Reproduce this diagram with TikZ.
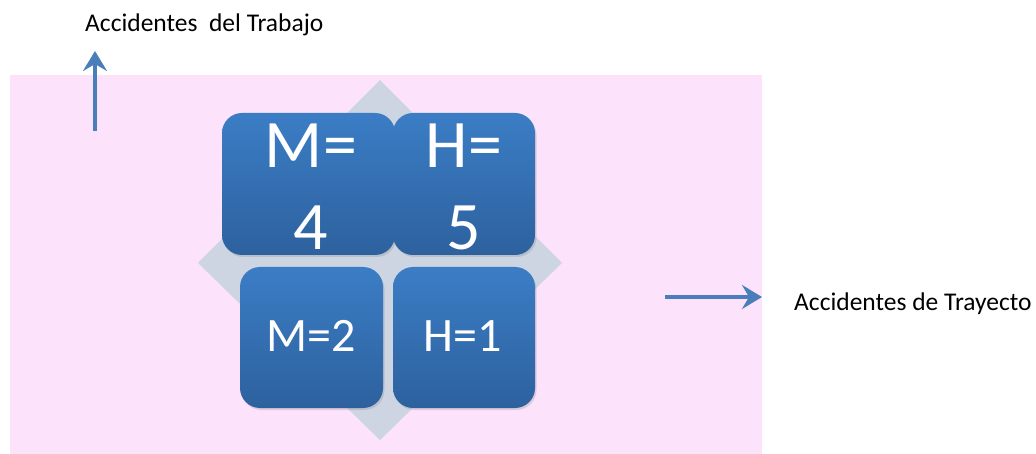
\documentclass[tikz,border=0pt]{standalone}
\usepackage{fontspec}
\setmainfont{Carlito}
\usetikzlibrary{arrows.meta,shadows}
\definecolor{bgpink}{HTML}{FCE3FB}
\definecolor{diam}{HTML}{CDD5E3}
\definecolor{btop}{HTML}{3B7DC5}
\definecolor{bbot}{HTML}{2D619E}
\definecolor{arr}{HTML}{4A7EBB}
\tikzset{
  tile/.style={rounded corners=20pt, top color=btop, bottom color=bbot, draw=none,
    drop shadow={shadow xshift=1.5pt, shadow yshift=-2pt, opacity=0.25},
    inner sep=0pt},
  bigtxt/.style={font=\fontsize{68}{80}\selectfont, text=white, align=center, inner sep=0pt},
  smalltxt/.style={font=\fontsize{48}{56}\selectfont, text=white, inner sep=0pt},
  lbl/.style={font=\fontsize{25.5}{30}\selectfont, text=black, inner sep=0pt},
  arrline/.style={draw=arr, line width=4pt, -{Stealth[length=20pt,width=24pt,inset=7pt]}}
}
\begin{document}
\begin{tikzpicture}[x=1pt,y=-1pt]
\useasboundingbox (0,0) rectangle (1036,454);
\fill[white] (0,0) rectangle (1036,454);
\fill[bgpink] (10,75) rectangle (762,454);
\fill[diam] (380,80) -- (562,263) -- (380,440) -- (198,263) -- cycle;
\node[tile, minimum width=173pt, minimum height=142pt] (m4) at (308.5,184) {};
\node[tile, minimum width=142pt, minimum height=142pt] (h5) at (464,184) {};
\node[tile, minimum width=143pt, minimum height=141pt] (m2) at (311.5,337.5) {};
\node[tile, minimum width=142pt, minimum height=141pt] (h1) at (464,337.5) {};
\node[bigtxt, anchor=base] (m4a) at (311,168) {M=};
\node[bigtxt, anchor=base] (m4b) at (311,250) {4};
\node[bigtxt, anchor=base] (h5a) at (464,168) {H=};
\node[bigtxt, anchor=base] (h5b) at (464,250) {5};
\node[smalltxt, anchor=base] (m2t) at (311,352) {M=2};
\node[smalltxt, anchor=base] (h1t) at (463,352) {H=1};
\node[lbl, anchor=base west] (trab) at (85,32) {Accidentes\ \ del Trabajo};
\node[lbl, anchor=base west] (tray) at (794,311) {Accidentes de Trayecto};
\coordinate (a1s) at (95,131);
\coordinate (a1e) at (95,51);
\coordinate (a2s) at (665,297);
\coordinate (a2e) at (762,297);
\draw[arrline] (a1s) -- (a1e);
\draw[arrline] (a2s) -- (a2e);
\end{tikzpicture}
\end{document}
